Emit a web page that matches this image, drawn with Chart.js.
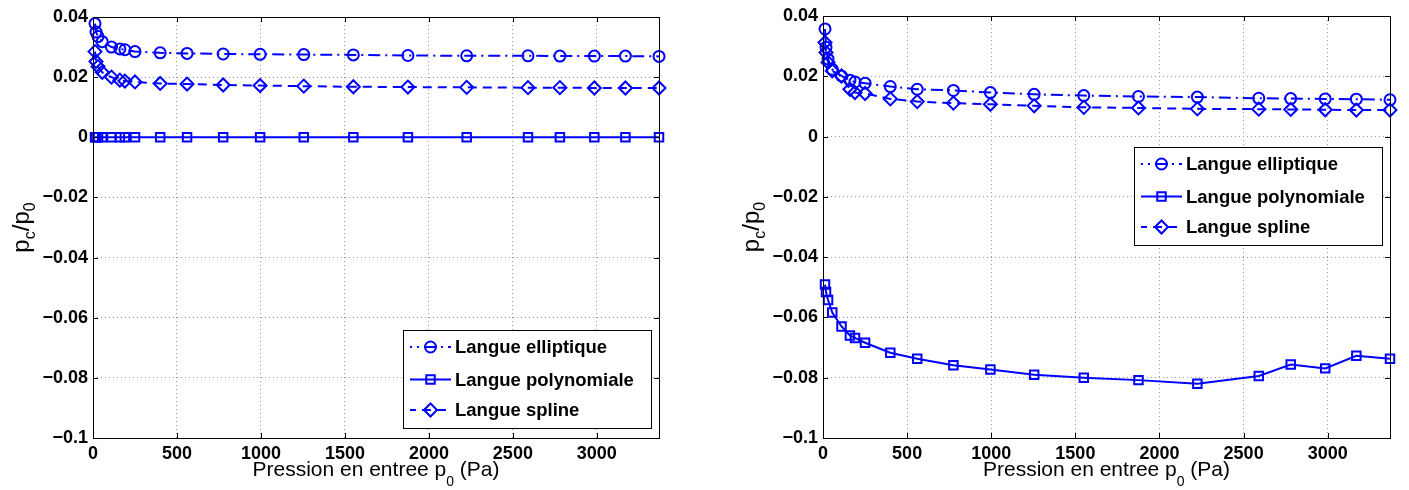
<!DOCTYPE html>
<html>
<head>
<meta charset="utf-8">
<script src="https://cdn.jsdelivr.net/npm/chart.js@4.4.0/dist/chart.umd.min.js"></script>
<style>
  html, body { margin: 0; padding: 0; background: #fff; }
  #wrap { position: relative; width: 1409px; height: 490px; }
  canvas { position: absolute; top: 0; }
</style>
</head>
<body>
<div id="wrap">
  <canvas id="chart-left" width="704" height="490" style="left:0"></canvas>
  <canvas id="chart-right" width="705" height="490" style="left:704px"></canvas>
</div>
<script>
// pression en entree p0 (Pa), memes points pour toutes les courbes
const pressure = [12, 18, 30, 55, 110, 160, 190, 250, 400, 560, 775, 995, 1255, 1550, 1875, 2225, 2590, 2780, 2985, 3170, 3370];

// p_c / p_0, figure de gauche
const leftElliptique = [0.0378, 0.0350, 0.0335, 0.0318, 0.0300, 0.0294, 0.0291, 0.0285, 0.0281, 0.0279, 0.0277, 0.0276, 0.0275, 0.0274, 0.0272, 0.0271, 0.0271, 0.0270, 0.0270, 0.0270, 0.0269];
const leftPolynomiale = [0, 0, 0, 0, 0, 0, 0, 0, 0, 0, 0, 0, 0, 0, 0, 0, 0, 0, 0, 0, 0];
const leftSpline = [0.0285, 0.0252, 0.0235, 0.0216, 0.0200, 0.0190, 0.0187, 0.0184, 0.0179, 0.0177, 0.0174, 0.0172, 0.0170, 0.0168, 0.0167, 0.0166, 0.0165, 0.0165, 0.0164, 0.0164, 0.0164];

// p_c / p_0, figure de droite
const rightElliptique = [0.0357, 0.0296, 0.0257, 0.0223, 0.0201, 0.0187, 0.0181, 0.0177, 0.0166, 0.0157, 0.0153, 0.0146, 0.0140, 0.0136, 0.0133, 0.0131, 0.0127, 0.0126, 0.0125, 0.0124, 0.0122];
const rightPolynomiale = [-0.0491, -0.0516, -0.0542, -0.0584, -0.0630, -0.0660, -0.0668, -0.0684, -0.0717, -0.0737, -0.0759, -0.0773, -0.0790, -0.0800, -0.0808, -0.0820, -0.0794, -0.0756, -0.0769, -0.0727, -0.0737];
const rightSpline = [0.0312, 0.0279, 0.0246, 0.0218, 0.0201, 0.0157, 0.0146, 0.0143, 0.0125, 0.0116, 0.0111, 0.0107, 0.0102, 0.0097, 0.0095, 0.0092, 0.0091, 0.0090, 0.0089, 0.0088, 0.0088];

const xTicks = [0, 500, 1000, 1500, 2000, 2500, 3000];
const yTicks = [-0.1, -0.08, -0.06, -0.04, -0.02, 0, 0.02, 0.04];

const seriesLabels = ['Langue elliptique', 'Langue polynomiale', 'Langue spline'];
const xTitle = [['Pression en entree p', 0], ['0', 1], [' (Pa)', 0]];
const yTitle = [['p', 0], ['c', 1], ['/p', 0], ['0', 1]];

const BLUE = '#0000ff';
const FONT = '"Liberation Sans", Arial, Helvetica, sans-serif';
const styles = [
  { pointStyle: 'circle', pointRadius: 5.5, borderDash: [12, 5, 2, 5] },
  { pointStyle: 'rect', pointRadius: 6, borderDash: [] },
  { pointStyle: 'rectRot', pointRadius: 6.5, borderDash: [9, 6] },
];

function fmtY(v) {
  if (Math.abs(v) < 1e-9) return '0';
  const s = String(parseFloat(Math.abs(v).toFixed(2)));
  return (v < 0 ? '\u2212' : '') + s;
}

// texte avec indices (style TeX de matlab)
function richWidth(ctx, parts, size, subSize) {
  let w = 0;
  parts.forEach(([t, sub]) => {
    ctx.font = `${sub ? subSize : size}px ${FONT}`;
    w += ctx.measureText(t).width;
  });
  return w;
}

function drawRich(ctx, parts, x, y, size, subSize, drop) {
  ctx.textAlign = 'left';
  ctx.textBaseline = 'alphabetic';
  parts.forEach(([t, sub]) => {
    ctx.font = `${sub ? subSize : size}px ${FONT}`;
    ctx.fillText(t, x, sub ? y + drop : y);
    x += ctx.measureText(t).width;
  });
}

function markerPath(ctx, style, x, y) {
  Chart.helpers.drawPoint(ctx, { pointStyle: style.pointStyle, radius: style.pointRadius, borderWidth: 2, rotation: 0 }, x, y);
}

const matlabFrame = {
  id: 'matlabFrame',
  afterDraw(chart, args, opts) {
    const { ctx, chartArea: a, scales } = chart;
    ctx.save();

    // cadre + graduations interieures
    ctx.strokeStyle = '#000';
    ctx.lineWidth = 1;
    ctx.setLineDash([]);
    ctx.strokeRect(Math.round(a.left) + 0.5, Math.round(a.top) + 0.5, Math.round(a.right - a.left), Math.round(a.bottom - a.top));
    ctx.beginPath();
    scales.x.ticks.forEach((t) => {
      const px = Math.round(scales.x.getPixelForValue(t.value)) + 0.5;
      ctx.moveTo(px, a.bottom); ctx.lineTo(px, a.bottom - 5);
      ctx.moveTo(px, a.top); ctx.lineTo(px, a.top + 5);
    });
    scales.y.ticks.forEach((t) => {
      const py = Math.round(scales.y.getPixelForValue(t.value)) + 0.5;
      ctx.moveTo(a.left, py); ctx.lineTo(a.left + 5, py);
      ctx.moveTo(a.right, py); ctx.lineTo(a.right - 5, py);
    });
    ctx.stroke();

    // legende
    const bw = 248, bh = 98;
    const bx = Math.round(a.right - 8 - bw);
    const by = Math.round(opts.legendTop === 'bottom' ? a.bottom - 10 - bh : a.top + 131);
    ctx.fillStyle = '#fff';
    ctx.fillRect(bx, by, bw, bh);
    ctx.strokeStyle = '#000';
    ctx.strokeRect(bx + 0.5, by + 0.5, bw, bh);
    const rows = [17, 49.5, 80];
    styles.forEach((st, i) => {
      const ry = by + rows[i];
      ctx.strokeStyle = BLUE;
      ctx.lineWidth = 2;
      ctx.setLineDash(st.borderDash);
      ctx.lineDashOffset = i === 0 ? 10 : 3;
      ctx.beginPath();
      ctx.moveTo(bx + 7, ry);
      ctx.lineTo(bx + 48, ry);
      ctx.stroke();
      ctx.setLineDash([]);
      ctx.fillStyle = 'rgba(0,0,0,0)';
      ctx.strokeStyle = BLUE;
      markerPath(ctx, st, bx + 27.5, ry);
      ctx.fillStyle = '#000';
      ctx.font = `bold 18.5px ${FONT}`;
      ctx.textAlign = 'left';
      ctx.textBaseline = 'middle';
      ctx.fillText(seriesLabels[i], bx + 52, ry + 1);
    });

    // titres des axes
    ctx.fillStyle = '#000';
    const xw = richWidth(ctx, xTitle, 21, 14);
    drawRich(ctx, xTitle, (a.left + a.right) / 2 - xw / 2, a.bottom + 38, 21, 14, 10);
    const yw = richWidth(ctx, yTitle, 24, 16);
    ctx.translate(a.left - 64, (a.top + a.bottom) / 2);
    ctx.rotate(-Math.PI / 2);
    drawRich(ctx, yTitle, -yw / 2, 0, 24, 16, 6);
    ctx.restore();
  },
};

function makeChart(id, data, legendTop, padRight) {
  const el = document.getElementById(id);
  const datasets = data.map((arr, i) => ({
    label: seriesLabels[i],
    data: pressure.map((x, j) => ({ x, y: arr[j] })),
    borderColor: BLUE,
    backgroundColor: 'rgba(0,0,0,0)',
    borderWidth: 2,
    borderDash: styles[i].borderDash,
    pointStyle: styles[i].pointStyle,
    pointRadius: styles[i].pointRadius,
    pointBorderWidth: 2,
    pointBorderColor: BLUE,
    pointBackgroundColor: 'rgba(0,0,0,0)',
    tension: 0,
    clip: false,
  }));
  const tickFont = { family: FONT, size: 18, weight: 'bold' };
  return new Chart(el, {
    type: 'line',
    data: { datasets },
    options: {
      responsive: false,
      animation: false,
      devicePixelRatio: 1,
      layout: { padding: { top: legendTop === 'bottom' ? 17 : 16, right: padRight, left: 0, bottom: 0 } },
      plugins: { legend: { display: false }, tooltip: { enabled: false }, matlabFrame: { legendTop } },
      scales: {
        x: {
          type: 'linear',
          min: 0,
          max: 3370,
          afterBuildTicks: (s) => { s.ticks = xTicks.map((value) => ({ value })); },
          afterFit: (s) => { s.height = 52; },
          ticks: { color: '#000', font: tickFont, padding: 5, maxRotation: 0, autoSkip: false, callback: (v) => String(v) },
          grid: { color: '#9a9a9a', drawTicks: false },
          border: { display: false, dash: [1, 3] },
        },
        y: {
          min: -0.1,
          max: 0.04,
          afterBuildTicks: (s) => { s.ticks = yTicks.map((value) => ({ value })); },
          afterFit: (s) => { s.width = legendTop === 'bottom' ? 93 : 119; },
          ticks: { color: '#000', font: tickFont, padding: 5, autoSkip: false, callback: fmtY },
          grid: { color: '#9a9a9a', drawTicks: false },
          border: { display: false, dash: [1, 3] },
        },
      },
    },
    plugins: [matlabFrame],
  });
}

makeChart('chart-left', [leftElliptique, leftPolynomiale, leftSpline], 'bottom', 45);
makeChart('chart-right', [rightElliptique, rightPolynomiale, rightSpline], 'top', 19);
</script>
</body>
</html>
